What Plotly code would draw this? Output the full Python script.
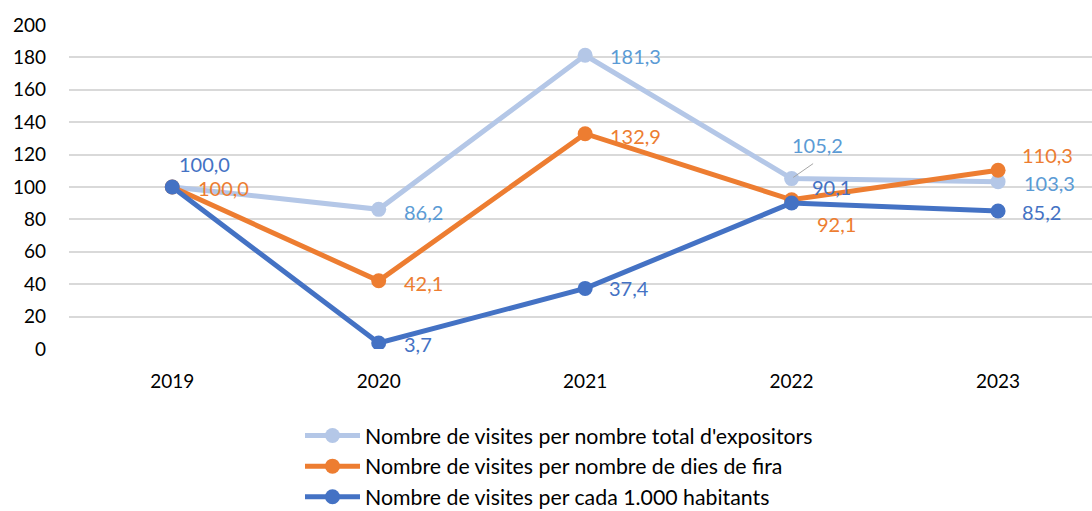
import plotly.graph_objects as go

years = ["2019", "2020", "2021", "2022", "2023"]
names = [
    "Nombre de visites per nombre total d'expositors",
    "Nombre de visites per nombre de dies de fira",
    "Nombre de visites per cada 1.000 habitants",
]
expositors = [100.0, 86.2, 181.3, 105.2, 103.3]
dies_fira = [100.0, 42.1, 132.9, 92.1, 110.3]
habitants = [100.0, 3.7, 37.4, 90.1, 85.2]
y_ticks = [0, 20, 40, 60, 80, 100, 120, 140, 160, 180, 200]

series = [expositors, dies_fira, habitants]
line_colors = ["#B4C7E7", "#ED7D31", "#4472C4"]
label_colors = ["#5B9BD5", "#ED7D31", "#4472C4"]
# label offsets (px) per point: (xshift, yshift, xanchor)
offsets = [
    [None, (23, -3, "left"), (23, -1, "left"), (-2, 34, "left"), (24, -1, "left")],
    [(24, -1, "left"), (23, -2, "left"), (23, -2, "left"), (23, -24, "left"), (22, 15, "left")],
    [(32, 23, "center"), (23, -1, "left"), (22, 0, "left"), (18, 16, "left"), (22, -1, "left")],
]

FONT = "Lato"
fig = go.Figure()
for vals, name, lc in zip(series, names, line_colors):
    fig.add_trace(go.Scatter(
        x=years, y=vals, name=name, mode="lines+markers",
        line=dict(color=lc, width=5), marker=dict(color=lc, size=15),
    ))

annotations = []
for vals, offs, col in zip(series, offsets, label_colors):
    for i, (yv, off) in enumerate(zip(vals, offs)):
        if off is None:
            continue
        dx, dy, anchor = off
        annotations.append(dict(
            x=i, y=yv, xref="x", yref="y",
            text=f"{yv:.1f}".replace(".", ","), showarrow=False,
            xshift=dx, yshift=dy, xanchor=anchor, yanchor="middle",
            font=dict(family=FONT, size=20, color=col),
        ))
# leader line for the 105,2 label
annotations.append(dict(
    x=3, y=expositors[3], xref="x", yref="y", ax=23, ay=-16,
    showarrow=True, arrowhead=0, arrowwidth=1, arrowcolor="#A6A6A6",
    text="", standoff=2,
))

fig.update_layout(
    width=1092, height=511,
    margin=dict(l=69, r=0, t=25, b=162, autoexpand=False),
    paper_bgcolor="white", plot_bgcolor="white",
    font=dict(family=FONT, size=19, color="black"),
    showlegend=True,
    legend=dict(
        orientation="v", x=(300 - 69) / 1023, xanchor="left",
        y=-0.204, yanchor="top",
        font=dict(family=FONT, size=21.3, color="black"),
        itemwidth=55, tracegroupgap=0, bgcolor="rgba(0,0,0,0)",
    ),
    annotations=annotations,
    xaxis=dict(
        type="category", range=[-0.5, 4.455], showgrid=False, zeroline=False,
        showline=False, ticks="", tickfont=dict(family=FONT, size=19, color="black"),
        ticklabelstandoff=19,
    ),
    yaxis=dict(
        range=[0, 200], tickvals=y_ticks, showgrid=True, gridcolor="#D9D9D9",
        gridwidth=1.5, zeroline=False, showline=False, ticks="",
        tickfont=dict(family=FONT, size=19, color="black"), ticklabelstandoff=22,
    ),
)

fig.write_html(
    "out.html",
    config={"displayModeBar": False},
    post_script="document.body.style.margin='0';document.body.style.overflow='hidden';",
)
